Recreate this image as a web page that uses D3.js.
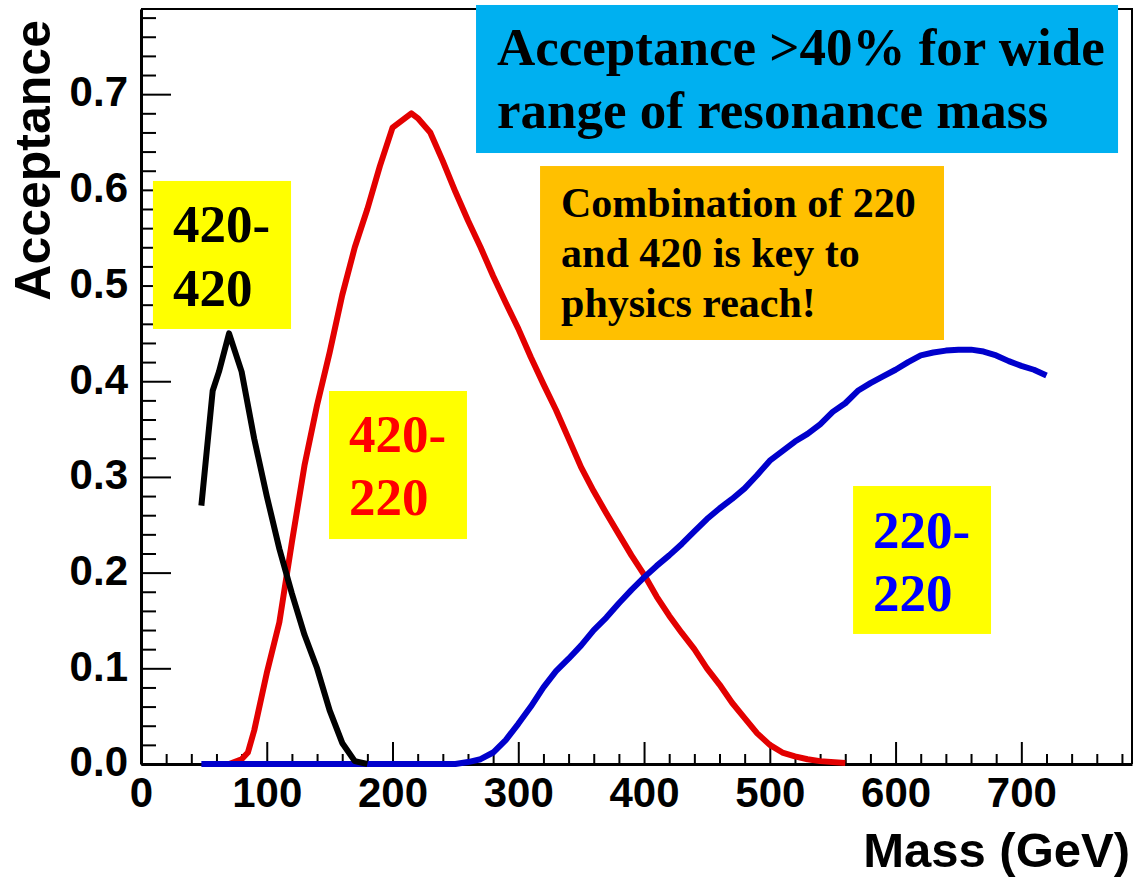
<!DOCTYPE html>
<html>
<head>
<meta charset="utf-8">
<script src="https://cdn.jsdelivr.net/npm/d3@7"></script>
<style>
  html, body { margin: 0; padding: 0; background: #fff; }
  svg { display: block; }
</style>
</head>
<body>
<svg id="chart" width="1136" height="878"></svg>
<script>
// ---------------- data ----------------
const massBlack = [48, 57, 62, 70, 80, 90, 100, 110, 120, 130, 140, 150, 160, 170, 180];
const acc420_420 = [0.27, 0.39, 0.41, 0.45, 0.41, 0.34, 0.28, 0.225, 0.178, 0.135, 0.10, 0.056, 0.022, 0.003, 0.0];

const massRed = [70, 80, 85, 90, 100, 110, 120, 130, 140, 150, 160, 170, 180, 190, 200, 210, 215, 220, 230, 240,
  250, 260, 270, 280, 290, 300, 310, 320, 330, 340, 350, 360, 370, 380, 390, 400, 410, 420, 430, 440,
  450, 460, 470, 480, 490, 500, 510, 520, 530, 540, 560];
const acc420_220 = [0.0, 0.005, 0.012, 0.035, 0.095, 0.148, 0.232, 0.312, 0.375, 0.43, 0.49, 0.54, 0.58, 0.625, 0.665, 0.675, 0.68, 0.675, 0.66, 0.63,
  0.598, 0.568, 0.54, 0.51, 0.482, 0.455, 0.425, 0.397, 0.37, 0.34, 0.31, 0.285, 0.262, 0.24, 0.218, 0.198, 0.175, 0.155, 0.137, 0.12,
  0.1, 0.083, 0.064, 0.048, 0.032, 0.02, 0.012, 0.008, 0.005, 0.003, 0.001];

const massBlue = [48, 100, 150, 200, 250, 260, 270, 280, 290, 300, 310, 320, 330, 340, 350, 360, 370, 380, 390, 400,
  410, 420, 430, 440, 450, 460, 470, 480, 490, 500, 510, 520, 530, 540, 550, 560, 570, 580, 590, 600,
  610, 620, 630, 640, 650, 660, 670, 680, 690, 700, 710, 720];
const acc220_220 = [0, 0, 0, 0, 0, 0.002, 0.005, 0.012, 0.025, 0.042, 0.06, 0.08, 0.097, 0.11, 0.124, 0.14, 0.153, 0.168, 0.182, 0.195,
  0.207, 0.218, 0.23, 0.243, 0.256, 0.267, 0.277, 0.288, 0.302, 0.317, 0.327, 0.337, 0.345, 0.355, 0.368, 0.377, 0.39, 0.398, 0.405, 0.412,
  0.42, 0.427, 0.43, 0.432, 0.433, 0.433, 0.431, 0.427, 0.421, 0.416, 0.412, 0.406];

const xTicks = [0, 100, 200, 300, 400, 500, 600, 700];
const yTicks = [0.0, 0.1, 0.2, 0.3, 0.4, 0.5, 0.6, 0.7];
const xTitle = "Mass (GeV)";
const yTitle = "Acceptance";

const noteHeadline = ["Acceptance >40% for wide", "range of resonance mass"];
const noteCombination = ["Combination of 220", "and 420 is key to", "physics reach!"];
const label420_420 = ["420-", "420"];
const label420_220 = ["420-", "220"];
const label220_220 = ["220-", "220"];

// ---------------- layout ----------------
(function () {
const svg = d3.select("#chart");
const W = 1136, H = 878;
const pL = 141, pR = 1132, pT = 9, pB = 764;
const xMax = 788, yMax = 0.789;

svg.append("rect").attr("width", W).attr("height", H).attr("fill", "#fff");

const x = d3.scaleLinear().domain([0, xMax]).range([pL, pR]);
const y = d3.scaleLinear().domain([0, yMax]).range([pB, pT]);

const axisFont = "'Liberation Sans', Arial, Helvetica, sans-serif";
const serif = "'Liberation Serif', 'Times New Roman', Times, serif";

// frame (top & right)
svg.append("path")
  .attr("d", `M${pL},${pT}H${pR}V${pB}`)
  .attr("fill", "none").attr("stroke", "#000").attr("stroke-width", 2);

// minor ticks
const xMinor = d3.range(0, xMax, 20).filter(v => v % 100 !== 0);
const yMinor = d3.range(0, 79, 2).map(v => v / 100).filter(v => Math.round(v * 100) % 10 !== 0);

svg.append("g").attr("transform", `translate(0,${pB})`)
  .call(d3.axisBottom(x).tickValues(xMinor).tickFormat("").tickSizeInner(-10).tickSizeOuter(0))
  .call(g => g.select(".domain").remove())
  .call(g => g.selectAll("line").attr("stroke-width", 2));

svg.append("g").attr("transform", `translate(${pL},0)`)
  .call(d3.axisLeft(y).tickValues(yMinor).tickFormat("").tickSizeInner(-15).tickSizeOuter(0))
  .call(g => g.select(".domain").remove())
  .call(g => g.selectAll("line").attr("stroke-width", 2));

// major axes
const gx = svg.append("g").attr("transform", `translate(0,${pB})`)
  .call(d3.axisBottom(x).tickValues(xTicks).tickFormat(d3.format("d")).tickSizeInner(-22).tickSizeOuter(0).tickPadding(13));
gx.select(".domain").attr("stroke-width", 3);
gx.selectAll(".tick line").attr("stroke-width", 2);
gx.selectAll(".tick text").attr("font-family", axisFont).attr("font-weight", "bold")
  .attr("font-size", 42).attr("fill", "#000");

const gy = svg.append("g").attr("transform", `translate(${pL},0)`)
  .call(d3.axisLeft(y).tickValues(yTicks).tickFormat(d3.format(".1f")).tickSizeInner(-30).tickSizeOuter(0).tickPadding(13));
gy.select(".domain").attr("stroke-width", 3);
gy.selectAll(".tick line").attr("stroke-width", 2);
gy.selectAll(".tick text").attr("font-family", axisFont).attr("font-weight", "bold")
  .attr("font-size", 42).attr("fill", "#000").attr("dy", "0.28em");

// axis titles
svg.append("text")
  .attr("x", 1130).attr("y", 867)
  .attr("text-anchor", "end")
  .attr("font-family", axisFont).attr("font-weight", "bold").attr("font-size", 49)
  .text(xTitle);

svg.append("text")
  .attr("transform", `translate(50,20) rotate(-90)`)
  .attr("text-anchor", "end")
  .attr("font-family", axisFont).attr("font-weight", "bold").attr("font-size", 50)
  .text(yTitle);

// curves
const line = d3.line().x(d => x(d[0])).y(d => y(d[1]));
const series = [
  { m: massRed, a: acc420_220, color: "#e30000" },
  { m: massBlue, a: acc220_220, color: "#0000cc" },
  { m: massBlack, a: acc420_420, color: "#000000" }
];
series.forEach(s => {
  svg.append("path")
    .datum(s.m.map((v, i) => [v, s.a[i]]))
    .attr("d", line)
    .attr("fill", "none")
    .attr("stroke", s.color)
    .attr("stroke-width", 6)
    .attr("stroke-linejoin", "round");
});

// annotation boxes (positions in data coordinates)
function note(x0, x1, y0, y1, fill, lines, color, fontSize, padX, firstBase, lineGap) {
  const px0 = x(x0), px1 = x(x1), py0 = y(y0), py1 = y(y1);
  svg.append("rect").attr("x", px0).attr("y", py0).attr("width", px1 - px0).attr("height", py1 - py0).attr("fill", fill);
  const t = svg.append("text")
    .attr("font-family", serif).attr("font-weight", "bold").attr("font-size", fontSize).attr("fill", color);
  lines.forEach((l, i) => {
    t.append("tspan").attr("x", px0 + padX).attr("y", py0 + firstBase + i * lineGap).text(l);
  });
}

note(266.4, 776.9, 0.7932, 0.6385, "#00b0f0", noteHeadline, "#000", 53, 21, 60, 63);
note(317.3, 638.5, 0.6249, 0.4431, "#ffc000", noteCombination, "#000", 42, 21, 51, 50);
note(9.5, 119.3, 0.6093, 0.4546, "#ffff00", label420_420, "#000", 53, 20, 61, 64);
note(149.5, 259.2, 0.3898, 0.2351, "#ffff00", label420_220, "#ff0000", 53, 20, 61, 63);
note(566.2, 675.9, 0.2905, 0.1359, "#ffff00", label220_220, "#0000ff", 53, 20, 62, 63);
})();
</script>
</body>
</html>
